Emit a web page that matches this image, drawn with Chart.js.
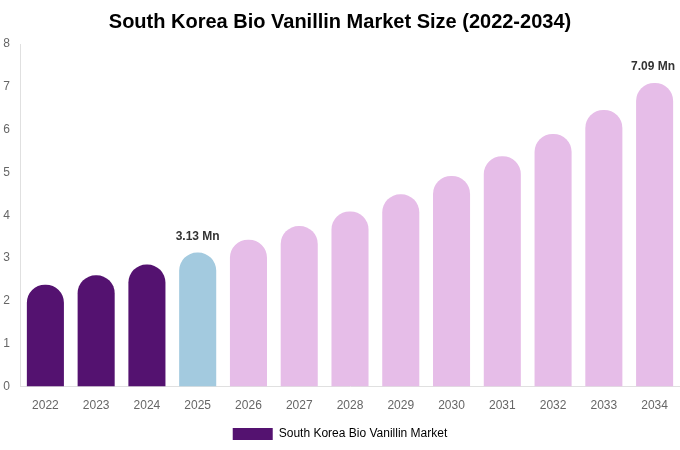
<!DOCTYPE html>
<html>
<head>
<meta charset="utf-8">
<script src="https://cdn.jsdelivr.net/npm/chart.js@4/dist/chart.umd.min.js"></script>
<style>
  html, body { margin: 0; padding: 0; background: #fff; }
  #wrap { width: 680px; height: 450px; position: relative; }
</style>
</head>
<body>
<div id="wrap"><canvas id="marketChart"></canvas></div>
<script>
/* South Korea Bio Vanillin market size, USD Mn */
var years = ['2022', '2023', '2024', '2025', '2026', '2027', '2028', '2029', '2030', '2031', '2032', '2033', '2034'];
var marketSize = [2.38, 2.60, 2.85, 3.13, 3.43, 3.75, 4.09, 4.49, 4.92, 5.38, 5.90, 6.46, 7.09];
var barColors = ['#541270', '#541270', '#541270', '#a3cadf', '#e6bde8', '#e6bde8', '#e6bde8', '#e6bde8', '#e6bde8', '#e6bde8', '#e6bde8', '#e6bde8', '#e6bde8'];
var labelled = { 3: '3.13 Mn', 12: '7.09 Mn' };
var yTicks = [0, 1, 2, 3, 4, 5, 6, 7, 8];

// value labels over the highlighted bars
var valueLabels = {
    id: 'valueLabels',
    afterDatasetsDraw: function (chart) {
        var c = chart.ctx;
        var meta = chart.getDatasetMeta(0);
        c.save();
        c.font = "bold 12px 'Liberation Sans', Arial, sans-serif";
        c.fillStyle = '#333333';
        c.textAlign = 'center';
        c.textBaseline = 'bottom';
        Object.keys(labelled).forEach(function (i) {
            var bar = meta.data[i];
            var x = bar.x;
            var w = c.measureText(labelled[i]).width;
            if (x + w / 2 > chart.width - 5) x = chart.width - 5 - w / 2;
            c.fillText(labelled[i], x, bar.y - 10);
        });
        c.restore();
    }
};

new Chart(document.getElementById('marketChart'), {
    type: 'bar',
    data: {
        labels: years,
        datasets: [{
            label: 'South Korea Bio Vanillin Market',
            data: marketSize,
            backgroundColor: barColors,
            borderWidth: 0,
            borderRadius: { topLeft: 18, topRight: 18, bottomLeft: 0, bottomRight: 0 },
            borderSkipped: false,
            barPercentage: 0.73,
            categoryPercentage: 1
        }]
    },
    options: {
        responsive: true,
        maintainAspectRatio: false,
        animation: false,
        layout: { padding: 0 },
        plugins: {
            title: {
                display: true,
                text: 'South Korea Bio Vanillin Market Size (2022-2034)',
                color: '#000000',
                font: { family: "'Liberation Sans', Arial, sans-serif", size: 20, weight: 'bold' },
                padding: { top: 10, bottom: 10 }
            },
            legend: {
                position: 'bottom',
                labels: {
                    color: '#666666',
                    boxWidth: 40,
                    boxHeight: 12,
                    padding: 7,
                    font: { family: "'Liberation Sans', Arial, sans-serif", size: 12 },
                    generateLabels: function () {
                        return [{ text: 'South Korea Bio Vanillin Market', fillStyle: '#541270', strokeStyle: '#541270', lineWidth: 0, hidden: false, datasetIndex: 0 }];
                    }
                }
            },
            tooltip: { enabled: false }
        },
        scales: {
            x: {
                afterFit: function (axis) { axis.height += 4; },
                grid: { display: false },
                border: { display: true, color: '#e0e0e0' },
                ticks: { color: '#666666', font: { family: "'Liberation Sans', Arial, sans-serif", size: 12 }, maxRotation: 0, padding: 4 }
            },
            y: {
                min: 0,
                max: 8,
                afterBuildTicks: function (axis) {
                    axis.ticks = yTicks.map(function (v) { return { value: v }; });
                },
                afterFit: function (axis) { axis.width = 20; },
                grid: { display: false },
                border: { display: true, color: '#e0e0e0' },
                ticks: { color: '#666666', font: { family: "'Liberation Sans', Arial, sans-serif", size: 12 }, padding: 2 }
            }
        }
    },
    plugins: [valueLabels]
});
</script>
</body>
</html>
